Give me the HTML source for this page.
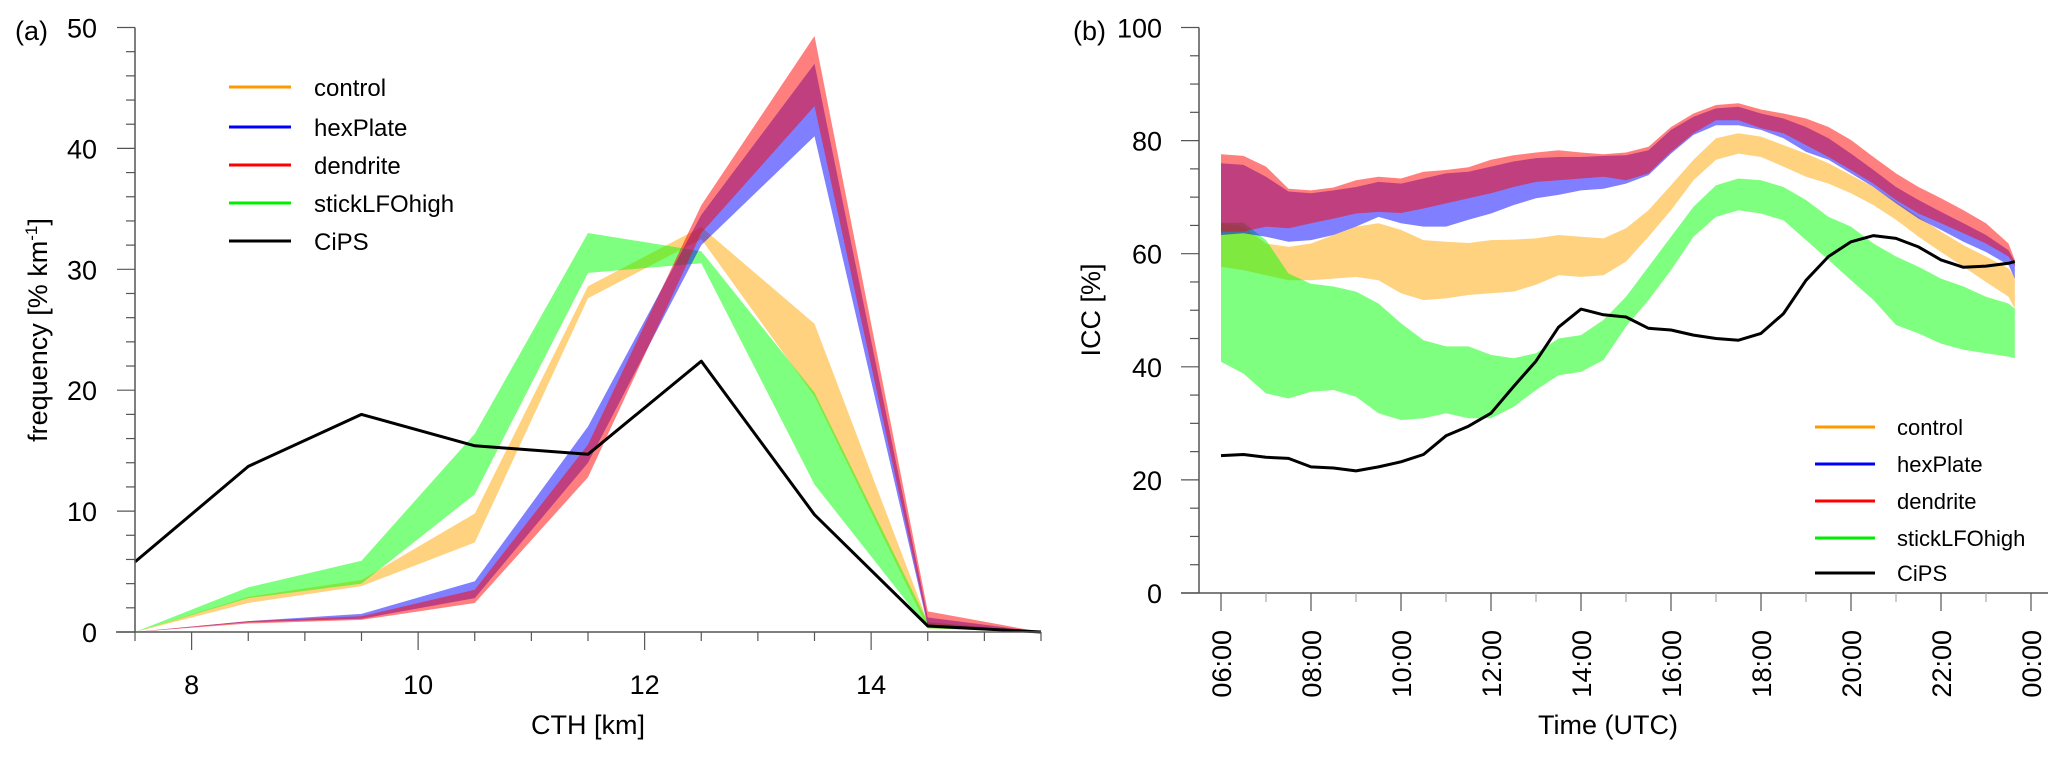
<!DOCTYPE html>
<html><head><meta charset="utf-8">
<style>
html,body{margin:0;padding:0;background:#fff;}
svg{display:block;font-family:"Liberation Sans",Arial,sans-serif;}
</style></head>
<body>
<svg id="chart" width="2067" height="757" viewBox="0 0 2067 757" xmlns="http://www.w3.org/2000/svg"></svg>
<script>
// ---------- Panel (a) data ----------
const cthBins = [7.5,8.5,9.5,10.5,11.5,12.5,13.5,14.5,15.5];
const controlLo = [0,2.4,3.8,7.4,27.6,32.5,19.5,0.3,0];
const controlHi = [0,2.9,4.3,9.8,28.6,33.5,25.5,0.8,0];
const stickLo = [0,2.8,4.0,11.4,29.7,30.5,12.2,0.3,0];
const stickHi = [0,3.7,5.9,16.4,33.0,31.5,19.8,0.8,0];
const hexLo = [0,0.8,1.1,2.8,14.0,32.0,41.0,0.5,0];
const hexHi = [0,0.9,1.5,4.2,17.0,34.5,47.0,1.2,0];
const dendLo = [0,0.7,1.0,2.4,12.8,33.0,43.5,0.6,0];
const dendHi = [0,0.9,1.3,3.5,15.5,35.3,49.3,1.7,0];
const cipsA = [5.8,13.7,18.0,15.4,14.7,22.4,9.7,0.5,0];
const xTicksA = [8,10,12,14];
const yTicksA = [0,10,20,30,40,50];

// ---------- Panel (b) data ----------
const hours = [6,6.5,7,7.5,8,8.5,9,9.5,10,10.5,11,11.5,12,12.5,13,13.5,14,14.5,15,15.5,16,16.5,17,17.5,18,18.5,19,19.5,20,20.5,21,21.5,22,22.5,23,23.5,23.64];
const bDendHi = [77.6,77.3,75.4,71.5,71.2,71.7,73.0,73.6,73.3,74.5,74.8,75.3,76.6,77.4,77.9,78.3,77.9,77.6,77.9,78.9,82.4,84.8,86.3,86.6,85.5,84.8,83.9,82.4,80.1,77.1,74.2,71.8,69.8,67.7,65.4,61.8,58.9];
const bDendLo = [63.9,63.9,64.8,64.5,65.4,66.2,67.1,67.4,67.2,68.0,68.9,69.8,70.7,71.8,72.7,73.0,73.3,73.6,73.0,74.2,78.0,81.3,83.6,83.6,82.2,81.3,79.2,77.1,74.8,72.4,69.5,67.1,65.4,63.6,61.8,59.5,57.8];
const bHexHi = [76.0,75.7,73.6,71.0,70.7,71.2,71.8,72.7,72.4,73.3,74.2,74.5,75.4,76.3,76.9,77.1,77.1,77.3,77.4,78.3,81.9,84.2,85.7,86.0,84.8,83.9,82.4,80.4,77.7,74.8,71.8,69.5,67.4,65.4,63.3,60.6,58.6];
const bHexLo = [63.3,63.6,63.0,62.1,62.4,63.3,64.8,66.5,65.4,64.8,64.8,66.0,67.1,68.6,69.8,70.4,71.2,71.5,72.4,73.9,77.7,81.0,82.7,82.7,81.9,80.4,78.0,76.6,74.2,71.8,68.9,66.2,64.2,62.1,60.3,58.0,55.6];
const bCtrlHi = [65.4,64.8,61.8,61.2,61.8,63.3,64.8,65.4,64.2,62.4,62.1,61.9,62.4,62.5,62.7,63.3,63.0,62.7,64.5,67.7,72.1,76.6,80.4,81.3,80.7,79.2,77.7,76.0,73.9,71.8,69.2,66.5,63.9,61.5,59.5,57.4,55.9];
const bCtrlLo = [57.7,57.1,56.2,55.3,55.3,55.6,55.9,55.3,53.0,51.8,52.1,52.7,53.0,53.3,54.5,56.2,55.9,56.2,58.6,63.0,67.7,73.0,76.6,77.7,77.1,75.4,73.6,72.4,70.7,68.6,66.0,63.0,60.3,57.7,55.0,52.4,50.3];
const bStickHi = [65.5,65.5,62.4,56.5,54.7,54.2,53.3,51.2,47.7,44.7,43.6,43.6,42.1,41.5,42.4,45.0,45.6,48.3,52.4,57.7,63.0,68.3,72.1,73.3,73.0,71.8,69.5,66.5,64.8,61.8,59.5,57.7,55.6,54.2,52.4,51.2,50.3];
const bStickLo = [40.9,38.8,35.3,34.4,35.6,35.9,34.7,31.8,30.6,30.9,31.8,30.9,30.9,32.9,35.9,38.5,39.1,41.2,47.1,51.8,57.1,63.0,66.5,67.7,67.1,65.9,62.4,58.9,55.3,51.8,47.4,45.9,44.1,43.0,42.4,41.8,41.5];
const bCips = [24.3,24.5,24.0,23.8,22.3,22.1,21.6,22.3,23.2,24.5,27.8,29.5,31.8,36.5,41.0,47.0,50.2,49.2,48.8,46.8,46.5,45.6,45.0,44.7,45.9,49.4,55.3,59.5,62.1,63.2,62.7,61.2,58.9,57.6,57.8,58.3,58.6];
const xTickLabelsB = ["06:00","08:00","10:00","12:00","14:00","16:00","18:00","20:00","22:00","00:00"];
const yTicksB = [0,20,40,60,80,100];

const NS = "http://www.w3.org/2000/svg";
const svg = document.getElementById('chart');
function mk(tag, attrs, parent){const e=document.createElementNS(NS,tag);for(const k in attrs)e.setAttribute(k,attrs[k]);(parent||svg).appendChild(e);return e;}
function txt(s, attrs, parent){const e=mk('text',attrs,parent);e.textContent=s;return e;}

const axA = {x0:135, x1:1041, y0:632, y1:27.5, xmin:7.5, xmax:15.5, ymin:0, ymax:50};
const xA = v => axA.x0 + (v-axA.xmin)/(axA.xmax-axA.xmin)*(axA.x1-axA.x0);
const yA = v => axA.y0 + (v-axA.ymin)/(axA.ymax-axA.ymin)*(axA.y1-axA.y0);
const axB = {x0:1199, y0:593, y1:27.5};
const xB = h => 1221 + (h-6)*45;
const yB = v => axB.y0 + v/100*(axB.y1-axB.y0);

function band(xs, lo, hi, fx, fy, fill, name, parent){
  let d='';
  for(let i=0;i<xs.length;i++) d+=(i?'L':'M')+fx(xs[i]).toFixed(1)+','+fy(hi[i]).toFixed(1);
  for(let i=xs.length-1;i>=0;i--) d+='L'+fx(xs[i]).toFixed(1)+','+fy(lo[i]).toFixed(1);
  const p=mk('path',{d:d+'Z',fill:fill,stroke:'none'},parent);
  
  
}
function line(xs, ys, fx, fy, name, parent){
  let d='';
  for(let i=0;i<xs.length;i++) d+=(i?'L':'M')+fx(xs[i]).toFixed(1)+','+fy(ys[i]).toFixed(1);
  const p=mk('path',{d:d,fill:'none',stroke:'#000','stroke-width':3,'stroke-linejoin':'round'},parent);
  
  
}
const C_OR='rgba(255,165,0,0.5)', C_GR='rgba(0,255,0,0.5)', C_BL='rgba(0,0,255,0.5)', C_RD='rgba(255,0,0,0.5)';
const AX='#555';

// ===== Panel A =====
const gA = mk('g',{});


band(cthBins, controlLo, controlHi, xA, yA, C_OR, 'band-control', gA);
band(cthBins, stickLo, stickHi, xA, yA, C_GR, 'band-sticklfohigh', gA);
band(cthBins, hexLo, hexHi, xA, yA, C_BL, 'band-hexplate', gA);
band(cthBins, dendLo, dendHi, xA, yA, C_RD, 'band-dendrite', gA);
line(cthBins, cipsA, xA, yA, 'line-cips', gA);
mk('line',{x1:axA.x0,y1:axA.y1,x2:axA.x0,y2:axA.y0,stroke:AX,'stroke-width':1.5},gA);
mk('line',{x1:116,y1:axA.y0,x2:axA.x1,y2:axA.y0,stroke:AX,'stroke-width':1.5},gA);
for(let v=0; v<=50; v+=2){
  const major = v%10===0;
  mk('line',{x1:axA.x0-(major?18:9),y1:yA(v),x2:axA.x0,y2:yA(v),stroke:AX,'stroke-width':1.2},gA);
}
for(let v=7.5; v<=15.5001; v+=0.5){
  const major = Math.abs(v%2)<1e-6;
  mk('line',{x1:xA(v),y1:axA.y0,x2:xA(v),y2:axA.y0+(major?18:9),stroke:AX,'stroke-width':1.2},gA);
}
yTicksA.forEach(v=>{const t=txt(String(v),{x:97,y:yA(v)+10,'font-size':27,'text-anchor':'end',fill:'#000'},gA);
  });
xTicksA.forEach(v=>{const t=txt(String(v),{x:xA(v),y:694,'font-size':27,'text-anchor':'middle',fill:'#000'},gA);
  });
let t;
t=txt('(a)',{x:15,y:40,'font-size':27,fill:'#000'},gA);
t=txt('CTH [km]',{x:588,y:734,'font-size':27,'text-anchor':'middle',fill:'#000'},gA);
t=mk('text',{x:0,y:0,'font-size':27,'text-anchor':'middle',fill:'#000',transform:'translate(47,330) rotate(-90)'},gA);
t.innerHTML='frequency [% km<tspan dy="-10" font-size="17">-1</tspan><tspan dy="10">]</tspan>';


// ===== Panel B =====
const gB = mk('g',{});


band(hours, bCtrlLo, bCtrlHi, xB, yB, C_OR, 'band-control-b', gB);
band(hours, bStickLo, bStickHi, xB, yB, C_GR, 'band-sticklfohigh-b', gB);
band(hours, bHexLo, bHexHi, xB, yB, C_BL, 'band-hexplate-b', gB);
band(hours, bDendLo, bDendHi, xB, yB, C_RD, 'band-dendrite-b', gB);
line(hours, bCips, xB, yB, 'line-cips-b', gB);
mk('line',{x1:axB.x0,y1:axB.y1,x2:axB.x0,y2:axB.y0,stroke:AX,'stroke-width':1.5},gB);
mk('line',{x1:1181,y1:axB.y0,x2:2048,y2:axB.y0,stroke:AX,'stroke-width':1.5},gB);
for(let v=0; v<=100; v+=5){
  const major = v%20===0;
  mk('line',{x1:axB.x0-(major?18:9),y1:yB(v),x2:axB.x0,y2:yB(v),stroke:AX,'stroke-width':1.2},gB);
}
for(let h=6; h<=24; h+=1){
  const major = (h%2===0);
  mk('line',{x1:xB(h),y1:axB.y0,x2:xB(h),y2:axB.y0+(major?18:9),stroke:major?AX:'#aaa','stroke-width':1.2},gB);
}
yTicksB.forEach(v=>{const e=txt(String(v),{x:1162,y:yB(v)+10,'font-size':27,'text-anchor':'end',fill:'#000'},gB);
  });
xTickLabelsB.forEach((s,i)=>{const X=xB(6+2*i);
  const e=txt(s,{x:0,y:0,'font-size':27,'text-anchor':'end',fill:'#000',transform:`translate(${X+10},630) rotate(-90)`},gB);
  });
t=txt('(b)',{x:1073,y:40,'font-size':27,fill:'#000'},gB);
t=txt('Time (UTC)',{x:1608,y:734,'font-size':27,'text-anchor':'middle',fill:'#000'},gB);
t=txt('ICC [%]',{x:0,y:0,'font-size':27,'text-anchor':'middle',fill:'#000',transform:'translate(1100,310) rotate(-90)'},gB);

// ===== Legends =====
const legNames = ['control','hexPlate','dendrite','stickLFOhigh','CiPS'];
const legColors = ['#ff9900','#0000ff','#ff0000','#00ee00','#000000'];
const legA = mk('g',{});  
const rowsA=[87,127,165,203,241];
legNames.forEach((n,i)=>{
  const g=mk('g',{},legA);
  
  
  mk('line',{x1:229,y1:rowsA[i],x2:291,y2:rowsA[i],stroke:legColors[i],'stroke-width':3},g);
  txt(n,{x:314,y:rowsA[i]+9,'font-size':24,fill:'#000'},g);
});
const legB = mk('g',{});  
const rowsB=[427,464,501,538,573];
legNames.forEach((n,i)=>{
  const g=mk('g',{},legB);
  
  
  mk('line',{x1:1815,y1:rowsB[i],x2:1875,y2:rowsB[i],stroke:legColors[i],'stroke-width':3},g);
  txt(n,{x:1897,y:rowsB[i]+8,'font-size':22,fill:'#000'},g);
});
</script>
</body></html>
